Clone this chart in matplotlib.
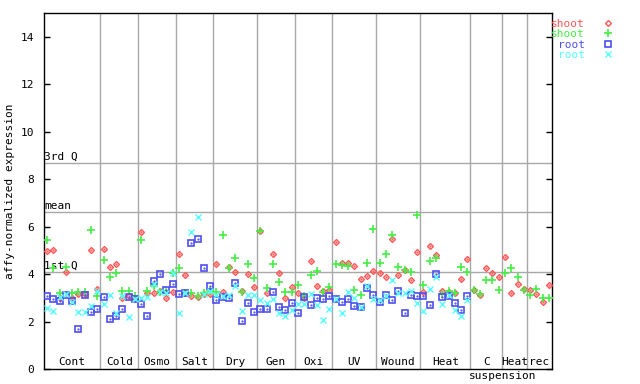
import matplotlib
matplotlib.use("Agg")
import matplotlib.pyplot as plt
import numpy as np

# expression values per sample (81 samples)
shoot_a = [4.96, 5.00, 3.00, 4.08, 3.00, 3.18, 3.15, 5.00, 3.39,
           5.08, 4.29, 4.43, 3.00, 3.07, 3.00,
           5.77, 3.21, 3.21, 3.28, 3.01, 3.25,
           4.84, 3.95, 3.08, 3.05, 3.18, 3.18,
           4.42, 3.23, 4.32, 4.08, 3.29, 3.99, 3.45,
           5.80, 3.19, 4.84, 4.04, 2.98, 3.45,
           3.19, 3.00, 4.56, 3.50, 3.30, 3.33,
           5.36, 4.47, 4.47, 4.35, 3.78, 3.91, 4.12,
           4.05, 3.87, 5.50, 3.95, 4.16, 3.74, 4.92,
           3.25, 5.19, 4.81, 3.28, 3.25, 3.21, 3.78, 4.63,
           3.32, 3.11, 4.25, 4.05, 3.87,
           4.71, 3.21, 3.57, 3.39,
           3.32, 3.15, 2.81, 3.53]
shoot_b = [5.43, 4.26, 3.22, 4.32, 3.20, 3.25, 3.26, 5.85, 3.08,
           4.59, 3.87, 4.05, 3.28, 3.28, 3.08,
           5.43, 3.28, 3.49, 3.25, 3.28, 4.05,
           4.28, 3.20, 3.19, 3.08, 3.21, 3.30,
           3.23, 5.64, 4.25, 4.67, 3.23, 4.42, 3.83,
           5.84, 3.40, 4.42, 3.66, 3.23, 3.23,
           3.54, 3.08, 3.97, 4.14, 3.23, 3.46,
           4.43, 4.40, 4.35, 3.32, 3.11, 4.47, 5.89,
           4.47, 4.85, 5.64, 4.29, 4.19, 4.09, 6.50,
           3.53, 4.56, 4.68, 3.18, 3.28, 3.21, 4.29, 4.08,
           3.35, 3.18, 3.74, 3.74, 3.32,
           4.05, 4.25, 3.88, 3.32,
           3.11, 3.39, 3.00, 3.00]
root_a = [3.07, 2.94, 2.86, 3.11, 2.86, 1.67, 3.12, 2.40, 2.52,
          3.02, 2.10, 2.24, 2.52, 3.02, 2.97,
          2.73, 2.22, 3.70, 4.00, 3.35, 3.57,
          3.15, 3.22, 5.30, 5.49, 4.25, 3.49,
          2.91, 3.05, 2.98, 3.64, 2.01, 2.77, 2.39,
          2.52, 2.52, 3.23, 2.60, 2.48, 2.77,
          2.35, 3.02, 2.70, 2.98, 2.94, 3.07,
          2.97, 2.83, 2.94, 2.66, 2.62, 3.43, 3.11,
          2.83, 3.11, 2.90, 3.28, 2.35, 3.11, 3.07,
          3.07, 2.69, 4.00, 3.04, 3.07, 2.78, 2.48, 3.07]
root_b = [2.57, 2.45, 3.05, 3.18, 2.81, 2.39, 2.42, 2.67, 3.28,
          2.74, 3.11, 2.36, 3.10, 2.18, 2.97,
          3.00, 3.05, 3.60, 3.25, 3.20, 4.04,
          2.35, 3.20, 5.79, 6.40, 3.15, 3.30,
          3.12, 3.10, 3.12, 3.50, 2.46, 3.12, 3.12,
          2.91, 2.77, 2.94, 2.38, 2.24, 2.49,
          2.74, 2.74, 3.15, 2.70, 2.05, 2.52,
          2.97, 2.35, 3.25, 3.00, 2.62, 3.49, 2.94,
          2.90, 3.08, 3.74, 3.21, 3.22, 3.28, 2.78,
          2.45, 3.36, 3.88, 2.73, 3.11, 2.48, 2.22, 2.90]

groups = ["Cont", "Cold", "Osmo", "Salt", "Dry", "Gen", "Oxi", "UV",
          "Wound", "Heat", "C", "Heat", "rec"]
group_sizes = [9, 6, 6, 6, 7, 6, 6, 7, 7, 8, 5, 4, 4]

q1, mean_val, q3 = 4.09, 6.61, 8.68

plt.rcParams['font.family'] = ['DejaVu Sans Mono']
fs = 8

fig = plt.figure(figsize=(6.4, 3.84), dpi=100)
ax = fig.add_axes([0.06875, 0.039, 0.79375, 0.9263])

grey = '#a8a8a8'
bounds = np.cumsum(group_sizes)
for b in bounds[:-1]:
    ax.axvline(b - 0.5, color=grey, lw=1, zorder=1)
for val, name in [(q3, '3rd Q'), (mean_val, 'mean'), (q1, '1st Q')]:
    ax.axhline(val, color=grey, lw=1, zorder=1)
    ax.text(-0.45, val + 0.05, name, fontsize=fs, va='bottom', ha='left', zorder=2)

starts = np.concatenate([[0], bounds[:-1]])
for name, s, n in zip(groups, starts, group_sizes):
    ax.text(s + (n - 1) / 2, 0.08, name, fontsize=fs, ha='center', va='bottom')
ax.text(72.6, -0.1, 'suspension', fontsize=fs, ha='center', va='top', clip_on=False)

red, green, blue, cyan = '#ff5555', '#44ee44', '#4f4fef', '#55ffff'
xs = np.arange(len(shoot_a))
xr = np.arange(len(root_a))

ax.plot(xs, shoot_a, ls='', marker='D', ms=3, mew=1, mfc='none', color=red, label='shoot', zorder=3)
ax.plot(xs, shoot_a, ls='', marker='.', ms=1.2, color=red, label='_nolegend_', zorder=3)
ax.plot(xs, shoot_b, ls='', marker='+', ms=5.5, mew=1.2, color=green, label='shoot', zorder=3)
ax.plot(xr, root_a, ls='', marker='s', ms=4.5, mew=1.2, mfc='none', color=blue, label='root', zorder=3)
ax.plot(xr, root_a, ls='', marker='.', ms=1.2, color=blue, label='_nolegend_', zorder=3)
ax.plot(xr, root_b, ls='', marker='x', ms=4, mew=1, color=cyan, label='root', zorder=3)

ax.set_xlim(-0.5, len(shoot_a) - 0.5)
ax.set_ylim(0, 15)
ax.set_yticks(range(0, 15, 2))
ax.set_xticks([])
ax.tick_params(axis='y', direction='in', length=4, width=1, pad=7, labelsize=fs,
               right=True)
ax.set_ylabel('affy-normalized expression', fontsize=fs, labelpad=4)
for sp in ax.spines.values():
    sp.set_linewidth(1)

ax.legend(loc='upper left', bbox_to_anchor=(0.998, 0.985), markerfirst=False,
          frameon=False, fontsize=fs, labelcolor='linecolor', handlelength=1,
          handletextpad=1.6, labelspacing=0.05, borderaxespad=0, borderpad=0)

fig.savefig('out.png', dpi=100)
